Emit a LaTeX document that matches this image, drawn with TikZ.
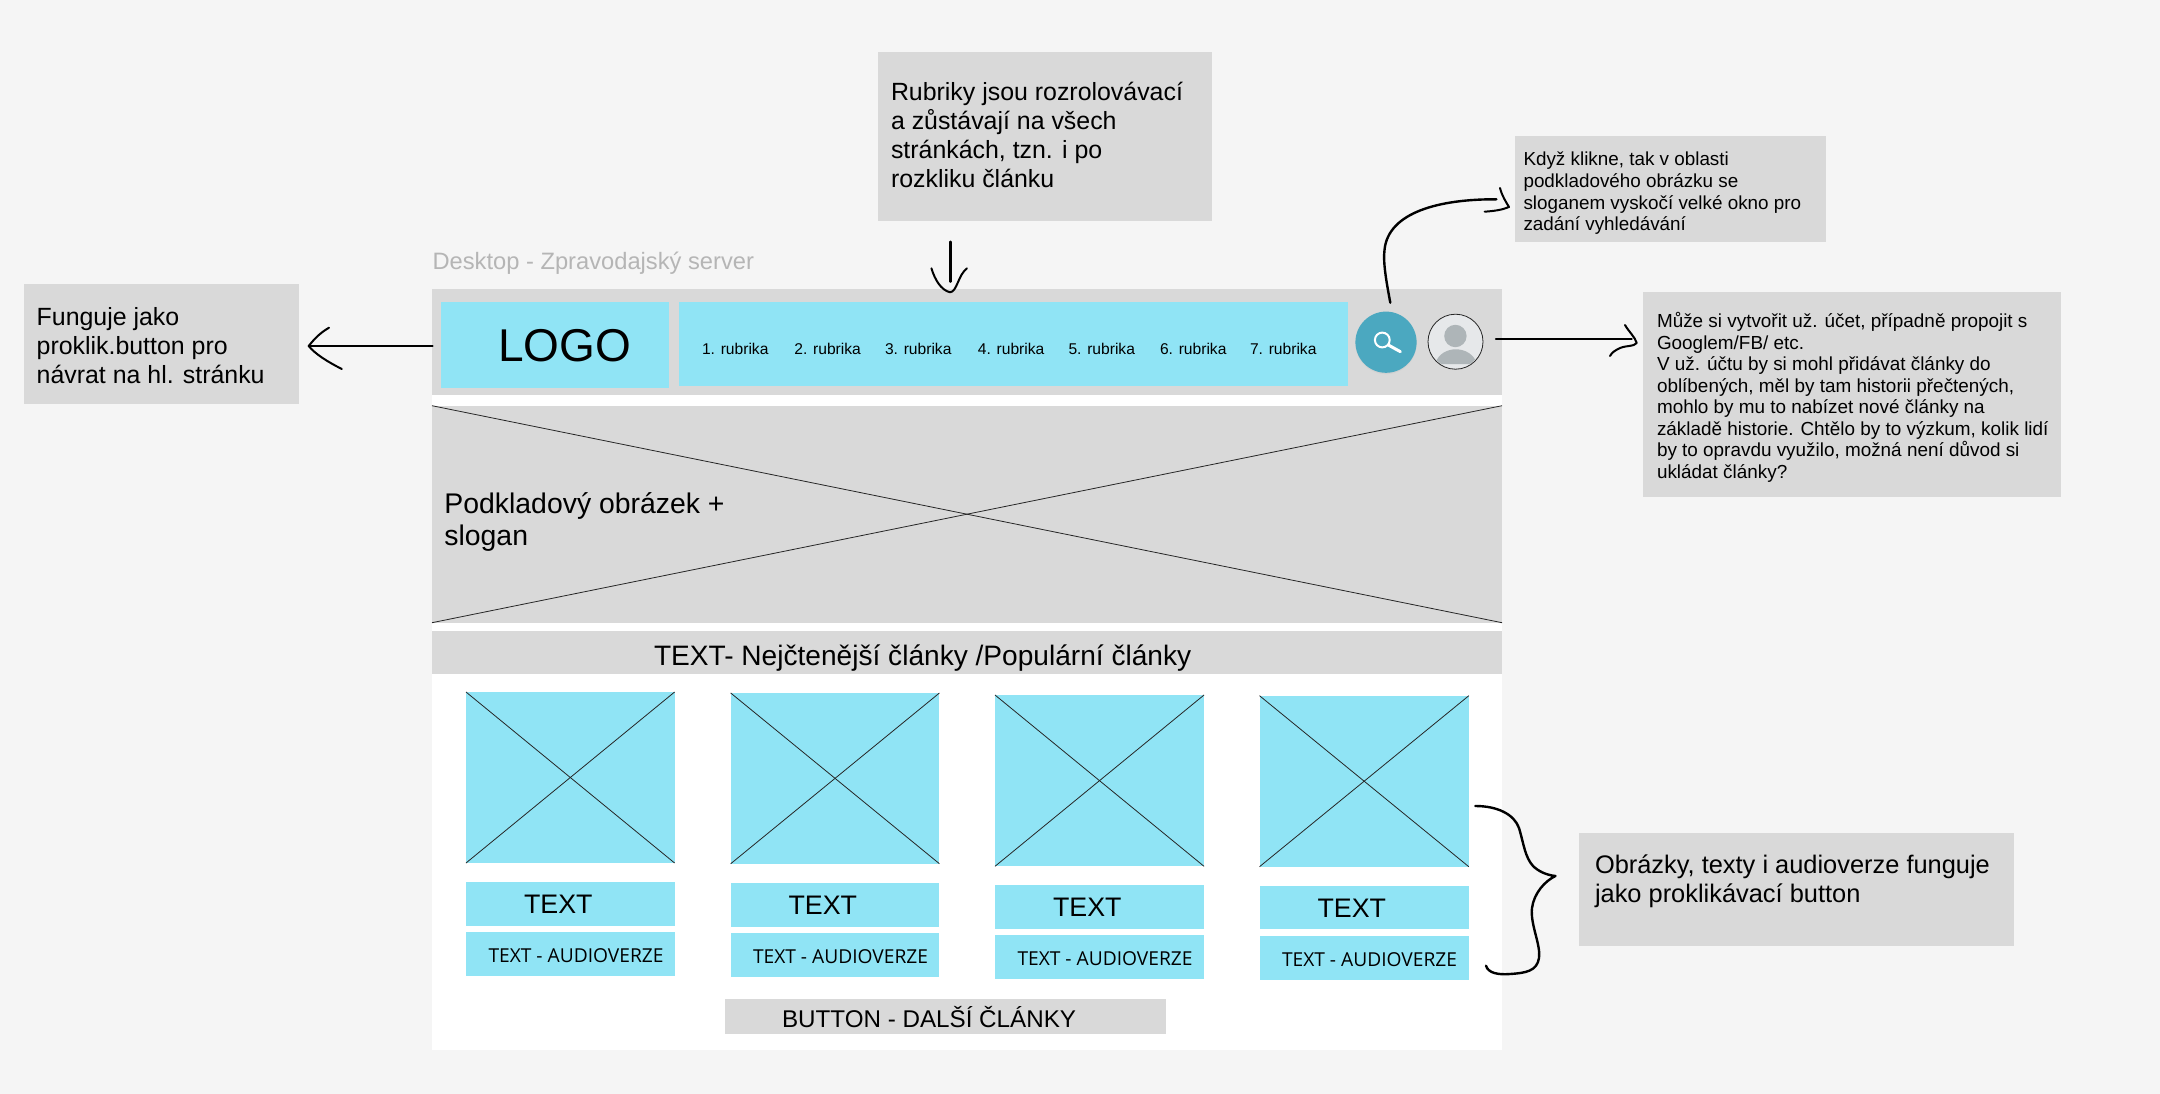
\documentclass[tikz,border=0pt]{standalone}
\usepackage{fontspec}
\setmainfont{Liberation Sans}
\newfontfamily\audiofont{Open Sans}
\definecolor{bgpage}{HTML}{F5F5F5}
\definecolor{wfgray}{HTML}{D9D9D9}
\definecolor{wfcyan}{HTML}{90E4F5}
\definecolor{wfteal}{HTML}{4BA8C0}
\definecolor{avfill}{HTML}{E6E8EA}
\definecolor{avdark}{HTML}{AEB5B8}
\definecolor{titlegray}{HTML}{B5B5B5}
\newcommand{\wfbox}[6]{\node[#1,minimum width={(#5-#3)*1pt},minimum height={(#6-#4)*1pt}] (#2) at ({(#3+#5)/2},{(#4+#6)/2}) {};}
\newcommand{\fsz}[2]{\fontsize{#1}{#2}\selectfont}
\tikzset{
  x=1pt,y=-1pt,
  plain/.style={inner sep=0pt,outer sep=0pt,draw=none},
  grayb/.style={plain,fill=wfgray},
  cyanb/.style={plain,fill=wfcyan},
  whiteb/.style={plain,fill=white},
  lbl/.style={inner sep=0pt,outer sep=0pt,anchor=west,align=left,text=black},
  cross/.style={draw=black!85,line width=0.8pt},
  hand/.style={draw=black,line width=2.4pt,line cap=round,line join=round},
  handhead/.style={draw=black,line width=2pt,line cap=round,line join=round},
}
\begin{document}
\begin{tikzpicture}
\useasboundingbox[fill=bgpage] (0,0) rectangle (2160,1094);
% frame
\wfbox{whiteb}{frame}{432}{289}{1502}{1050}
\wfbox{grayb}{header}{432}{289.3}{1502}{395}
\wfbox{cyanb}{logo}{441}{301.7}{669.4}{387.7}
\wfbox{cyanb}{menu}{679}{301.7}{1347.5}{386}
\wfbox{grayb}{hero}{432}{405.7}{1502}{622.7}
\draw[cross] (hero.north west) -- (hero.south east);
\draw[cross] (hero.south west) -- (hero.north east);
\wfbox{grayb}{band}{432}{630.7}{1502}{674}
\node[lbl,font=\fsz{28.1}{34}] (bandt) at (654,658) {TEXT- Nejčtenější články /Populární články};
\node[lbl,font=\fsz{46}{50}] (logot) at (498,346) {LOGO};
\node[lbl,font=\fsz{28.4}{32.6}] (herot) at (444.4,522) {Podkladový obrázek +\\slogan};
\node[lbl,font=\fsz{23.7}{26},text=titlegray] (title) at (432.6,263.5) {Desktop - Zpravodajský server};
% menu items
\node[lbl,font=\fsz{15.6}{18}] (r1) at (702,348.7) {1. rubrika};
\node[lbl,font=\fsz{15.6}{18}] (r2) at (794.4,348.7) {2. rubrika};
\node[lbl,font=\fsz{15.6}{18}] (r3) at (885,348.7) {3. rubrika};
\node[lbl,font=\fsz{15.6}{18}] (r4) at (977.9,348.7) {4. rubrika};
\node[lbl,font=\fsz{15.6}{18}] (r5) at (1068.5,348.7) {5. rubrika};
\node[lbl,font=\fsz{15.6}{18}] (r6) at (1160,348.7) {6. rubrika};
\node[lbl,font=\fsz{15.6}{18}] (r7) at (1250,348.7) {7. rubrika};
% search button
\fill[black!18] (1386,343.5) circle (30.6);
\node[circle,fill=wfteal,minimum size=61.2pt,inner sep=0pt,outer sep=0pt] (search) at (1386,342.2) {};
\draw[white,line width=2pt] (1382.3,340) circle (7.4);
\draw[white,line width=3pt,line cap=round] (1388.3,345) -- (1400.4,351.7);
% avatar
\node[circle,fill=avfill,draw=black!85,line width=0.8pt,minimum size=55pt,inner sep=0pt,outer sep=0pt] (avatar) at (1455.5,341.7) {};
\begin{scope}
\clip (1455.5,341.7) circle (26.5);
\fill[avdark] (1455.4,336) circle (11.2);
\fill[avdark] (1435,364) .. controls (1438,354) and (1447,349.3) .. (1455.6,349.3) .. controls (1465,349.3) and (1474,354) .. (1477,364) -- cycle;
\end{scope}
% cards
\wfbox{cyanb}{ia}{466}{692}{674.6}{863}
\wfbox{cyanb}{ib}{730.7}{693}{939.4}{863.7}
\wfbox{cyanb}{ic}{995}{695}{1204}{866.3}
\wfbox{cyanb}{id}{1259.5}{695.7}{1468.8}{866.7}
\foreach \n in {ia,ib,ic,id}{
  \draw[cross] (\n.north west) -- (\n.south east);
  \draw[cross] (\n.south west) -- (\n.north east);
}
\wfbox{cyanb}{ta}{466}{882}{674.6}{926}
\wfbox{cyanb}{tb}{730.7}{882.7}{939.4}{926.7}
\wfbox{cyanb}{tc}{995}{885}{1204}{929}
\wfbox{cyanb}{td}{1259.5}{885.7}{1468.8}{929.3}
\wfbox{cyanb}{aa}{466}{932.3}{674.6}{976.3}
\wfbox{cyanb}{ab}{730.7}{933}{939.4}{977}
\wfbox{cyanb}{ac}{995}{935.3}{1204}{979.3}
\wfbox{cyanb}{ad}{1259.5}{936}{1468.8}{980}
\node[lbl,font=\fsz{26.8}{32}] (tta) at (524,904.5) {TEXT};
\node[lbl,font=\fsz{26.8}{32}] (ttb) at (788.5,905.5) {TEXT};
\node[lbl,font=\fsz{26.8}{32}] (ttc) at (1053,907.5) {TEXT};
\node[lbl,font=\fsz{26.8}{32}] (ttd) at (1317.5,908) {TEXT};
\node[lbl,font=\audiofont\fsz{19.2}{22}] (ata) at (488.5,955.3) {TEXT - AUDIOVERZE};
\node[lbl,font=\audiofont\fsz{19.2}{22}] (atb) at (753,956.3) {TEXT - AUDIOVERZE};
\node[lbl,font=\audiofont\fsz{19.2}{22}] (atc) at (1017.5,958.3) {TEXT - AUDIOVERZE};
\node[lbl,font=\audiofont\fsz{19.2}{22}] (atd) at (1282,959.3) {TEXT - AUDIOVERZE};
\wfbox{grayb}{btn}{725}{999.3}{1166}{1034}
\node[lbl,font=\fsz{24.2}{28}] (btnt) at (782,1017.5) {BUTTON - DALŠÍ ČLÁNKY};
% notes
\wfbox{grayb}{nfun}{24}{284}{298.5}{403.7}
\node[lbl,font=\fsz{24.9}{29}] (nfunt) at (36.7,346) {Funguje jako\\proklik.button pro\\návrat na hl. stránku};
\wfbox{grayb}{nrub}{877.5}{52}{1212}{220.6}
\node[lbl,font=\fsz{24.9}{29}] (nrubt) at (891,134.5) {Rubriky jsou rozrolovávací\\a zůstávají na všech\\stránkách, tzn. i po\\rozkliku článku};
\wfbox{grayb}{nkdy}{1514.8}{136}{1825.5}{241.7}
\node[lbl,font=\fsz{18.85}{21.7}] (nkdyt) at (1523.5,193.5) {Když klikne, tak v oblasti\\podkladového obrázku se\\sloganem vyskočí velké okno pro\\zadání vyhledávání};
\wfbox{grayb}{nmuz}{1642.9}{292}{2060.7}{497.3}
\node[lbl,font=\fsz{18.9}{21.5}] (nmuzt) at (1657,397.5) {Může si vytvořit už. účet, případně propojit s\\Googlem/FB/ etc.\\V už. účtu by si mohl přidávat články do\\oblíbených, měl by tam historii přečtených,\\mohlo by mu to nabízet nové články na\\základě historie. Chtělo by to výzkum, kolik lidí\\by to opravdu využilo, možná není důvod si\\ukládat články?};
\wfbox{grayb}{nobr}{1579}{833.3}{2014}{945.7}
\node[lbl,font=\fsz{25.4}{29}] (nobrt) at (1595,881.5) {Obrázky, texty i audioverze funguje\\jako proklikávací button};
% connectors
\coordinate (afun) at (308.7,346);
\coordinate (srub) at (950.6,241.7);
\coordinate (arub) at (950.6,281.7);
\coordinate (skdy) at (1390.3,302.7);
\coordinate (akdy) at (1496.4,199.3);
\coordinate (smuz) at (1496,339);
\coordinate (amuz) at (1631.6,339);
\draw[hand] (logo.west |- afun) ++(-8.5,0) -- (afun);
\draw[handhead] (329,327.7) .. controls (318,334) and (312,342) .. (afun) .. controls (315,354) and (328,362) .. (341.8,369);
\draw[hand] (srub) -- (arub);
\draw[handhead] (931.4,268.3) .. controls (935,280) and (941,290) .. (950,292.3) .. controls (957,292) and (958,275) .. (967,268.3);
\draw[hand] (skdy) .. controls (1386,280) and (1383,262) .. (1384.5,250) .. controls (1388,212) and (1440,199) .. (akdy);
\draw[handhead] (1500,188) .. controls (1502,196) and (1506,202) .. (1509,207) .. controls (1502,210) and (1494,211) .. (1484.7,211.7);
\draw[hand] (smuz) -- (amuz);
\draw[handhead] (1625,325) .. controls (1629,332) and (1635,337) .. (1636.7,343) .. controls (1633,347) and (1628,345) .. (1620,348) .. controls (1616,350) and (1612,352) .. (1610,356);
\draw[hand] (1475.4,806) .. controls (1497,806) and (1514,814) .. (1519,828) .. controls (1524,845) and (1525,857) .. (1533,866) .. controls (1538,871) and (1546,875) .. (1555.4,876) .. controls (1545,881) and (1534,893) .. (1532,908) .. controls (1530,924) and (1541,945) .. (1539,958) .. controls (1537,971) and (1526,973) .. (1510,974) .. controls (1498,975) and (1488,973) .. (1486,965.7);
\end{tikzpicture}
\end{document}
